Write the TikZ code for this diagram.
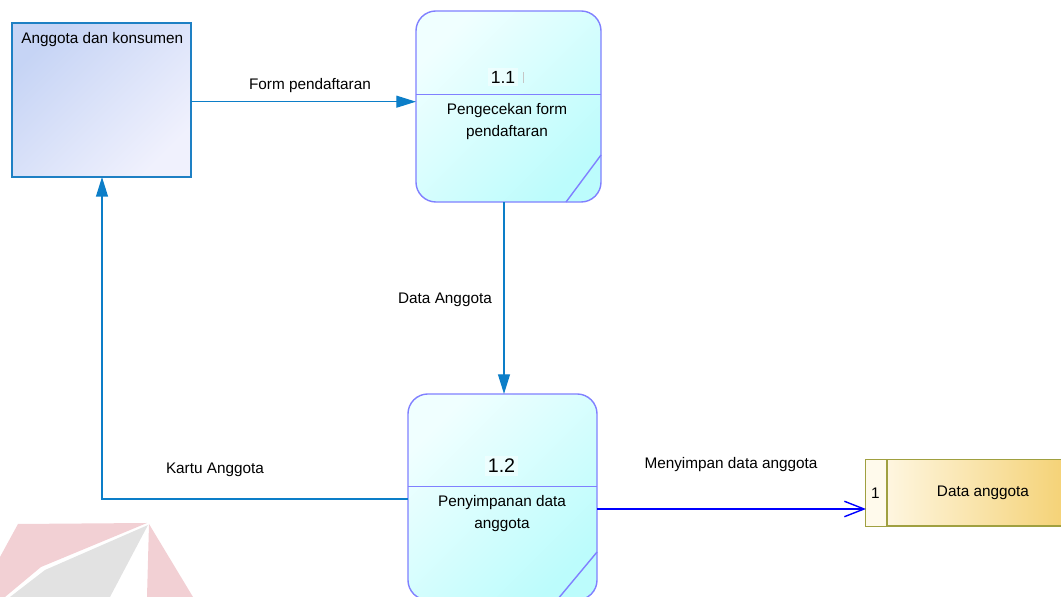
\documentclass[tikz,border=0pt]{standalone}
\usepackage{fontspec}
\setmainfont{Liberation Sans}
\usepackage{tikz}
\usetikzlibrary{calc}
\usetikzlibrary{arrows.meta}
\definecolor{flowblue}{RGB}{12,126,200}
\definecolor{entline}{RGB}{30,128,196}
\definecolor{enttop}{RGB}{198,212,245}
\definecolor{entbot}{RGB}{240,241,253}
\definecolor{procline}{RGB}{128,128,255}
\definecolor{proctop}{RGB}{240,255,255}
\definecolor{procbot}{RGB}{188,252,252}
\definecolor{storeline}{RGB}{160,160,64}
\definecolor{storelight}{RGB}{255,250,236}
\definecolor{storegold}{RGB}{244,208,112}
\definecolor{wmpink}{RGB}{242,208,212}
\definecolor{wmgray}{RGB}{226,226,226}
\newcommand{\procmarks}[5]{\draw[procline,line width=1pt] (#1.west |- 0,#2) -- (#1.east |- 0,#2); \draw[procline,line width=1pt] ($(#1.south east)+(0,#3)$) -- ($(#1.south east)+(-#4,#5)$);}

\begin{document}
\begin{tikzpicture}[x=0.025cm,y=0.025cm,
    lbl/.style={font=\fontsize{10.9}{15.8}\selectfont, inner sep=0pt, align=center},
    entity/.style={draw=entline, line width=1pt, top color=enttop, bottom color=entbot, shading angle=45, minimum width=4.475cm, minimum height=3.85cm, outer sep=0pt},
    process/.style={draw=procline, line width=1pt, rounded corners=0.5cm, top color=proctop, bottom color=procbot, shading angle=45, outer sep=0pt},
    procid/.style={inner sep=2pt, fill=white, fill opacity=0.45, text opacity=1},
    store/.style={draw=storeline, line width=1pt, left color=storelight, right color=storegold, minimum width=5.225cm, minimum height=1.667cm, outer sep=0pt},
    flow/.style={flowblue, line width=1pt, -{Triangle[length=14pt,width=8.5pt]}},
    saveflow/.style={blue, line width=1.2pt, -{Straight Barb[length=14pt,width=11pt,line width=1pt]}}]
    \useasboundingbox (0,0) rectangle (1061,597);
    % watermark
    \fill[wmpink] (18,73) -- (147,74) -- (41,30) -- (5,0) -- (0,0) -- (0,40) -- cycle;
    \fill[wmgray] (148,72) -- (45,27) -- (10,0) -- (110,0) -- cycle;
    \fill[wmpink] (149,73) -- (147,0) -- (193,0) -- cycle;

    % entity
    \node[entity] (ent) at (101.5,497) {};
    \node[lbl, anchor=west] (entlbl) at (21,557) {Anggota dan konsumen};

    % process 1.1
    \node[process, minimum width=4.625cm, minimum height=4.775cm] (p1) at (508.5,490.5) {};
    \procmarks{p1}{502.3}{47}{35}{0}
    \node[lbl, procid, font=\fontsize{12.5}{14}\selectfont] (p1id) at (503,520) {1.1};
    \draw[gray!45, line width=0.5pt] (523,514) -- (523,525);
    \node[lbl] (p1txt) at (507,475.5) {Pengecekan form\\pendaftaran};

    % process 1.2
    \node[process, minimum width=4.725cm, minimum height=5.15cm] (p2) at (502.5,100) {};
    \procmarks{p2}{110.3}{48}{40}{0}
    \node[lbl, procid, font=\fontsize{14}{16}\selectfont] (p2id) at (501.5,131) {1.2};
    \node[lbl] (p2txt) at (502,83.2) {Penyimpanan data\\anggota};

    % data store
    \node[store] (dstore) at (970.5,104.3) {};
    \fill[storelight] ($(dstore.south west)+(0.5,0.5)$) rectangle ($(dstore.north west)+(21,-0.5)$);
    \draw[storeline, line width=1pt] ($(dstore.south west)+(21,0)$) -- ($(dstore.north west)+(21,0)$);
    \node[lbl] (sid) at (875.5,104) {1};
    \node[lbl] (stxt) at (983,104) {Data anggota};

    % flows
    \draw[flow] (ent.east |- 0,495.3) -- (p1.west |- 0,495.3);
    \node[lbl] (lform) at (310,511.5) {Form pendaftaran};
    \draw[flow] (p1.south -| 504,0) -- (p2.north -| 504,0);
    \node[lbl] (ldata) at (445,297) {Data Anggota};
    \draw[flow] (p2.west |- 0,98) -| (ent.south -| 102,0);
    \node[lbl] (lkartu) at (215,127) {Kartu Anggota};
    \draw[saveflow] (p2.east |- 0,88) -- (dstore.west |- 0,88);
    \node[lbl] (lsimpan) at (731,132) {Menyimpan data anggota};
\end{tikzpicture}
\end{document}
